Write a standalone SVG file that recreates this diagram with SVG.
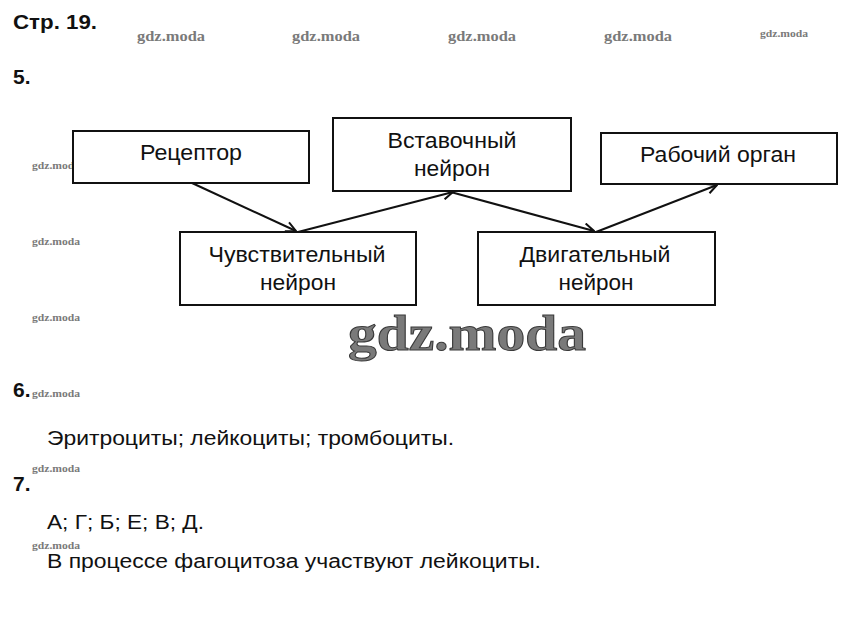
<svg xmlns="http://www.w3.org/2000/svg" width="849" height="625" viewBox="0 0 849 625">
<defs>
<style>
.t{font-family:"Liberation Sans",Arial,sans-serif;fill:#111}
.h{font-weight:bold;font-size:21px}
.b{font-size:22.5px;text-anchor:middle}
.p{font-size:20px}
.box{fill:#fff;stroke:#111;stroke-width:2}
.wm{font-family:"Liberation Serif","Times New Roman",serif;font-weight:bold;fill:#7a7a7a}
.c{stroke:#111;stroke-width:2;fill:none}
</style>
<marker id="ah" viewBox="0 0 12 12" refX="11" refY="6" markerWidth="12" markerHeight="12" markerUnits="userSpaceOnUse" orient="auto">
<path d="M1,1 L11,6 L1,11" fill="none" stroke="#111" stroke-width="2"/>
</marker>
</defs>
<rect width="849" height="625" fill="#fff"/>
<g id="watermarks">
<text class="wm" x="137" y="41" font-size="14" textLength="68" lengthAdjust="spacingAndGlyphs">gdz.moda</text>
<text class="wm" x="292" y="41" font-size="14" textLength="68" lengthAdjust="spacingAndGlyphs">gdz.moda</text>
<text class="wm" x="448" y="41" font-size="14" textLength="68" lengthAdjust="spacingAndGlyphs">gdz.moda</text>
<text class="wm" x="604" y="41" font-size="14" textLength="68" lengthAdjust="spacingAndGlyphs">gdz.moda</text>
<text class="wm" x="760" y="37" font-size="11" textLength="48" lengthAdjust="spacingAndGlyphs">gdz.moda</text>
<text class="wm" x="32" y="169" font-size="10" textLength="48" lengthAdjust="spacingAndGlyphs">gdz.moda</text>
<text class="wm" x="32" y="245" font-size="10" textLength="48" lengthAdjust="spacingAndGlyphs">gdz.moda</text>
<text class="wm" x="32" y="321" font-size="10" textLength="48" lengthAdjust="spacingAndGlyphs">gdz.moda</text>
<text class="wm" x="32" y="397" font-size="10" textLength="48" lengthAdjust="spacingAndGlyphs">gdz.moda</text>
<text class="wm" x="32" y="472" font-size="10" textLength="48" lengthAdjust="spacingAndGlyphs">gdz.moda</text>
<text class="wm" x="32" y="549" font-size="10" textLength="48" lengthAdjust="spacingAndGlyphs">gdz.moda</text>
<text class="wm" x="348" y="350" font-size="50" fill="#8a8a8a" stroke="#3a3a3a" stroke-width="1" textLength="238" lengthAdjust="spacingAndGlyphs">gdz.moda</text>
</g>
<g id="headings">
<text class="t h" x="13" y="29" textLength="84" lengthAdjust="spacingAndGlyphs">Стр. 19.</text>
<text class="t h" x="13" y="84">5.</text>
<text class="t h" x="13" y="397">6.</text>
<text class="t h" x="13" y="491">7.</text>
</g>
<g id="connectors">
<line class="c" x1="192" y1="183" x2="296" y2="231" marker-end="url(#ah)"/>
<line class="c" x1="298" y1="232" x2="453" y2="192" marker-end="url(#ah)"/>
<line class="c" x1="447" y1="191" x2="594" y2="231" marker-end="url(#ah)"/>
<line class="c" x1="596" y1="232" x2="717" y2="185" marker-end="url(#ah)"/>
</g>
<g id="n-receptor">
<rect class="box" x="73" y="131" width="236" height="52"/>
<text class="t b" x="191" y="160" textLength="102" lengthAdjust="spacingAndGlyphs">Рецептор</text>
</g>
<g id="n-interneuron">
<rect class="box" x="333" y="118" width="238" height="73"/>
<text class="t b" x="452" y="148" textLength="129" lengthAdjust="spacingAndGlyphs">Вставочный</text>
<text class="t b" x="452" y="176" textLength="76" lengthAdjust="spacingAndGlyphs">нейрон</text>
</g>
<g id="n-organ">
<rect class="box" x="601" y="133" width="236" height="51"/>
<text class="t b" x="718" y="162" textLength="156" lengthAdjust="spacingAndGlyphs">Рабочий орган</text>
</g>
<g id="n-sensory">
<rect class="box" x="180" y="232" width="236" height="73"/>
<text class="t b" x="297" y="262" textLength="177" lengthAdjust="spacingAndGlyphs">Чувствительный</text>
<text class="t b" x="298" y="290" textLength="76" lengthAdjust="spacingAndGlyphs">нейрон</text>
</g>
<g id="n-motor">
<rect class="box" x="478" y="232" width="237" height="73"/>
<text class="t b" x="595" y="262" textLength="151" lengthAdjust="spacingAndGlyphs">Двигательный</text>
<text class="t b" x="596" y="290" textLength="75" lengthAdjust="spacingAndGlyphs">нейрон</text>
</g>
<g id="answers">
<text class="t p" x="47" y="445" textLength="407" lengthAdjust="spacingAndGlyphs">Эритроциты; лейкоциты; тромбоциты.</text>
<text class="t p" x="47" y="529" textLength="157" lengthAdjust="spacingAndGlyphs">А; Г; Б; Е; В; Д.</text>
<text class="t p" x="47" y="568" textLength="494" lengthAdjust="spacingAndGlyphs">В процессе фагоцитоза участвуют лейкоциты.</text>
</g>
</svg>
